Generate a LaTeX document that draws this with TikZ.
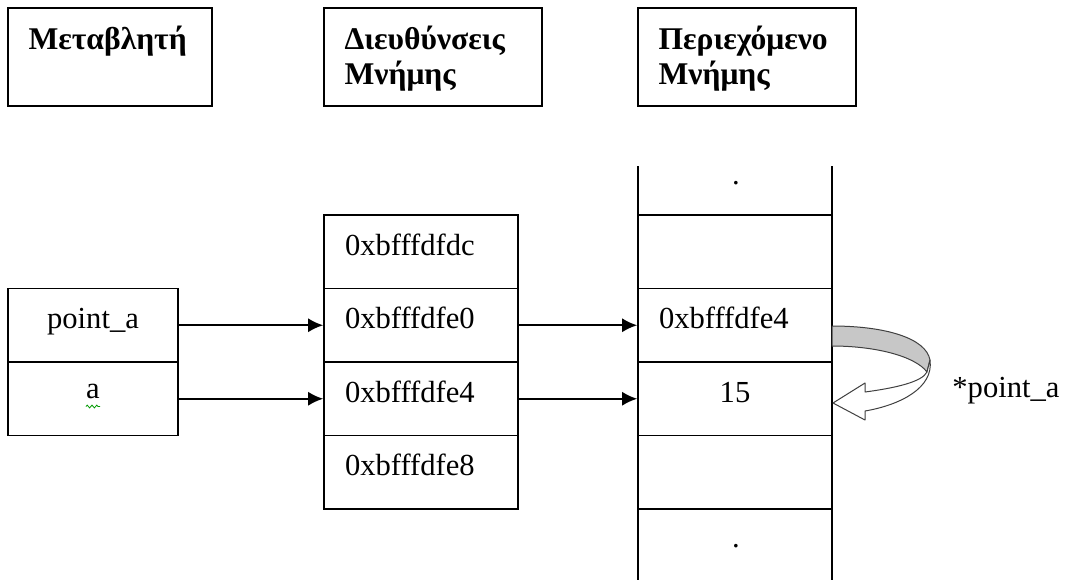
\documentclass[tikz,border=0pt]{standalone}
\usepackage{fontspec}
\setmainfont{Liberation Serif}
\usetikzlibrary{arrows.meta,decorations.pathmorphing}
\newcommand{\cellfont}{\fontsize{15.3}{18}\selectfont}
\tikzset{
  every picture/.style={x=0.5pt,y=-0.5pt},
  box/.style={draw, line width=0.8pt, inner sep=0pt},
  hdrbox/.style={box, minimum height=49pt},
  hdrtext/.style={anchor=north west, inner sep=0pt, align=left,
    font=\fontsize{15.8}{17.5}\selectfont\bfseries},
  cell/.style={box, inner ysep=0pt, minimum height=36.75pt,
    text height=20pt, text depth=16.75pt, font=\cellfont},
  lcell/.style={cell, inner xsep=10.5pt, text width=76pt, align=left},
  ccell/.style={cell, inner xsep=0pt, text width=#1, align=center},
  ptr/.style={line width=0.9pt, -{Latex[length=7.5pt,width=7pt]}},
  curlshape/.style={draw=black!75, line width=0.5pt, line join=round},
}
\begin{document}
\begin{tikzpicture}
\useasboundingbox (0,0) rectangle (1067,580);

% column headers
\node[hdrbox, minimum width=102pt] (hvar) at (110,57) {};
\node[hdrbox, minimum width=109pt] (hadr) at (433,57) {};
\node[hdrbox, minimum width=109pt] (hmem) at (747,57) {};
\node[hdrtext, xshift=10.5pt] (tvar) at (hvar.north west) {\rule{0pt}{21pt}Μεταβλητή};
\node[hdrtext, xshift=10.5pt] (tadr) at (hadr.north west) {\rule{0pt}{21pt}Διευθύνσεις\\Μνήμης};
\node[hdrtext, xshift=10.5pt] (tmem) at (hmem.north west) {\rule{0pt}{21pt}Περιεχόμενο\\Μνήμης};

% variables
\node[ccell=85pt] (vp) at (93,325.25) {point\_a};
\node[ccell=85pt, text height=18pt, text depth=18.75pt] (va) at (93,398.75) {a};
\draw[green!60!black, line width=0.4pt, decorate,
      decoration={zigzag, amplitude=0.7pt, segment length=2.4pt}]
  (86,406.5) -- (100,406.5);

% addresses
\node[lcell] (m1) at (421,251.75) {0xbfffdfdc};
\node[lcell] (m2) at (421,325.25) {0xbfffdfe0};
\node[lcell] (m3) at (421,398.75) {0xbfffdfe4};
\node[lcell] (m4) at (421,472.25) {0xbfffdfe8};

% memory contents: open-ended column
\node[lcell] (c1) at (735,251.75) {};
\node[lcell] (c2) at (735,325.25) {0xbfffdfe4};
\node[ccell=97pt] (c3) at (735,398.75) {15};
\node[lcell] (c4) at (735,472.25) {};
\coordinate (ctl) at (638,166);
\coordinate (ctr) at (832,166);
\coordinate (cbl) at (638,580);
\coordinate (cbr) at (832,580);
\draw[line width=0.8pt] (ctl) -- (cbl) (ctr) -- (cbr);
\node[font=\cellfont, anchor=base, inner sep=0pt] (dtop) at (736,184) {.};
\node[font=\cellfont, anchor=base, inner sep=0pt] (dbot) at (736,547) {.};

% pointers
\draw[ptr] (vp.east) -- (m2.west);
\draw[ptr] (va.east) -- (m3.west);
\draw[ptr] (m2.east) -- (c2.west);
\draw[ptr] (m3.east) -- (c3.west);

% dereference arrow
\filldraw[curlshape, fill=black!22]
  (832,326) .. controls (885,326) and (926,338) .. (930,360)
  -- (927,372) .. controls (915,356) and (875,346) .. (832,346) -- cycle;
\filldraw[curlshape, fill=white]
  (930,360) .. controls (934,388) and (900,405) .. (865,411)
  -- (865,420) -- (833,403) -- (865,383) -- (865,392)
  .. controls (895,388) and (922,382) .. (927,372) -- cycle;
\node[font=\cellfont, anchor=base west, inner sep=0pt] (deref) at (952,397) {*point\_a};
\end{tikzpicture}
\end{document}
